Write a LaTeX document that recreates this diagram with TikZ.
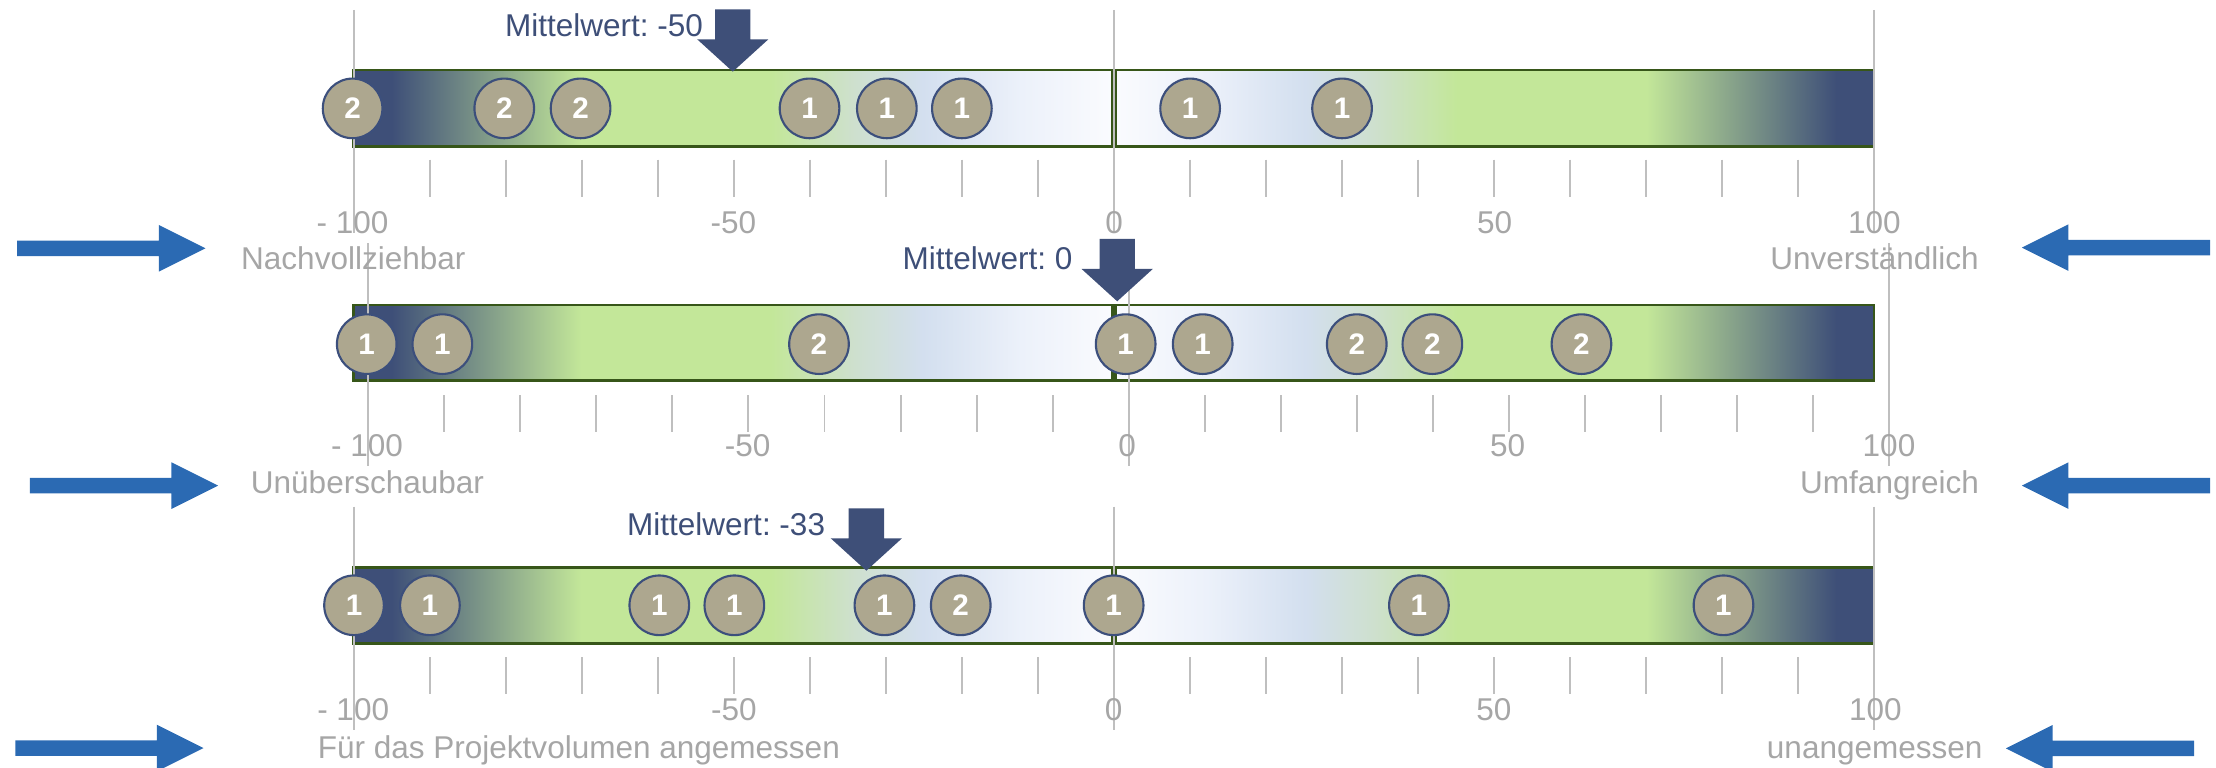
\documentclass[tikz,border=0pt]{standalone}
\usepackage{fontspec}
\setmainfont{Liberation Sans}
\usepackage{tikz}
\frenchspacing
\definecolor{teufxy}{rgb}{0.2431,0.3098,0.4706}
\definecolor{ctexzz}{rgb}{0.7647,0.9059,0.6}
\definecolor{ceeqce}{rgb}{0.8078,0.8784,0.8078}
\definecolor{dtdfef}{rgb}{0.8275,0.8745,0.9373}
\definecolor{ecfrfa}{rgb}{0.9255,0.9451,0.9804}
\definecolor{fafbfe}{rgb}{0.9804,0.9843,0.9961}
\definecolor{txvwrz}{rgb}{0.2157,0.3373,0.098}
\definecolor{adaxyf}{rgb}{0.6784,0.6549,0.5608}
\definecolor{tcufxc}{rgb}{0.2353,0.3098,0.4863}
\definecolor{sbwabt}{rgb}{0.1686,0.4157,0.702}
\definecolor{awawaw}{rgb}{0.651,0.651,0.651}
\definecolor{bfbfbf}{rgb}{0.749,0.749,0.749}
\pgfdeclarehorizontalshading{barleft}{100bp}{color(0bp)=(teufxy); color(25bp)=(teufxy); color(27.5bp)=(teufxy); color(40bp)=(ctexzz); color(52.5bp)=(ctexzz); color(58bp)=(ceeqce); color(62.5bp)=(dtdfef); color(69bp)=(ecfrfa); color(75bp)=(fafbfe); color(100bp)=(fafbfe)}
\pgfdeclarehorizontalshading{barright}{100bp}{color(0bp)=(fafbfe); color(25bp)=(fafbfe); color(31bp)=(ecfrfa); color(37.5bp)=(dtdfef); color(42bp)=(ceeqce); color(47.5bp)=(ctexzz); color(60bp)=(ctexzz); color(72.5bp)=(teufxy); color(75bp)=(teufxy); color(100bp)=(teufxy)}

\begin{document}
\begin{tikzpicture}[x=1pt,y=-1pt,line cap=butt,
vote/.style={circle,draw=tcufxc,line width=1.5pt,fill=adaxyf,minimum size=42.2pt,inner sep=0pt,text=white,font=\fontsize{21}{24}\selectfont\bfseries},
scalelabel/.style={color=awawaw,inner sep=0pt,anchor=base,font=\fontsize{22.3}{26}\selectfont},
meanlabel/.style={color=teufxy,inner sep=0pt,anchor=base east,font=\fontsize{22.3}{26}\selectfont}]
\useasboundingbox (0,0) rectangle (1568,543);
% bars
\shadedraw[shading=barleft,draw=txvwrz,line width=2pt] (250.3,49.5) rectangle (787,103.8);
\shadedraw[shading=barright,draw=txvwrz,line width=2pt] (789.5,49.5) rectangle (1326,103.8);
\shadedraw[shading=barleft,draw=txvwrz,line width=2pt] (250.3,215.8) rectangle (787,269.4);
\shadedraw[shading=barright,draw=txvwrz,line width=2pt] (789.5,215.8) rectangle (1326,269.4);
\shadedraw[shading=barleft,draw=txvwrz,line width=2pt] (250.3,401.5) rectangle (787,455.2);
\shadedraw[shading=barright,draw=txvwrz,line width=2pt] (789.5,401.5) rectangle (1326,455.2);
% scales
\foreach \x in {250.3,788.3,1326.3}
  \draw [color=bfbfbf,line width=1.4pt] (\x,7) -- (\x,165);
\foreach \x in {260.6,798.6,1336.6}
  \draw [color=bfbfbf,line width=1.4pt] (\x,172) -- (\x,330);
\foreach \x in {250.3,788.3,1326.3}
  \draw [color=bfbfbf,line width=1.4pt] (\x,358.5) -- (\x,516.6);
\foreach \v in {-90,-80,...,-10,10,20,...,90} {
  \draw [color=bfbfbf,line width=1.4pt] ({788.3+5.38*\v},113) -- ({788.3+5.38*\v},139.5);
  \draw [color=bfbfbf,line width=1.4pt] ({798.6+5.38*\v},279.5) -- ({798.6+5.38*\v},305.5);
  \draw [color=bfbfbf,line width=1.4pt] ({788.3+5.38*\v},465) -- ({788.3+5.38*\v},491);
}
% votes
\node[vote] (a1) at (249.5,76.7) {2};
\node[vote] (a2) at (356.8,76.7) {2};
\node[vote] (a3) at (410.8,76.7) {2};
\node[vote] (a4) at (572.8,76.7) {1};
\node[vote] (a5) at (627.5,76.7) {1};
\node[vote] (a6) at (680.6,76.7) {1};
\node[vote] (a7) at (842.1,76.7) {1};
\node[vote] (a8) at (949.6,76.7) {1};
\node[vote] (b1) at (259.5,243.5) {1};
\node[vote] (b2) at (313,243.5) {1};
\node[vote] (b3) at (579.5,243.5) {2};
\node[vote] (b4) at (796.5,243.5) {1};
\node[vote] (b5) at (851,243.5) {1};
\node[vote] (b6) at (960,243.5) {2};
\node[vote] (b7) at (1013.5,243.5) {2};
\node[vote] (b8) at (1119,243.5) {2};
\node[vote] (c1) at (250.5,428.3) {1};
\node[vote] (c2) at (304.2,428.3) {1};
\node[vote] (c3) at (466.5,428.3) {1};
\node[vote] (c4) at (519.6,428.3) {1};
\node[vote] (c5) at (625.8,428.3) {1};
\node[vote] (c6) at (679.8,428.3) {2};
\node[vote] (c7) at (788,428.3) {1};
\node[vote] (c8) at (1004,428.3) {1};
\node[vote] (c9) at (1219.5,428.3) {1};
% mean arrows
\fill [shift={(518.5,6.6)},color=teufxy] (-12.5,0) -- (12.5,0) -- (12.5,21.2) -- (25.2,21.2) -- (0,44.1) -- (-25.2,21.2) -- (-12.5,21.2) -- cycle;
\fill [shift={(790.5,169.1)},color=teufxy] (-12.5,0) -- (12.5,0) -- (12.5,21.2) -- (25.2,21.2) -- (0,44.1) -- (-25.2,21.2) -- (-12.5,21.2) -- cycle;
\fill [shift={(613,359.7)},color=teufxy] (-12.5,0) -- (12.5,0) -- (12.5,21.2) -- (25.2,21.2) -- (0,44.1) -- (-25.2,21.2) -- (-12.5,21.2) -- cycle;
% side arrows
\fill [shift={(12.2,175.7)},color=sbwabt] (0,-5.5) -- (100.2,-5.5) -- (100.2,-16.5) -- (133.2,0) -- (100.2,16.5) -- (100.2,5.5) -- (0,5.5) -- cycle;
\fill [shift={(21.1,343.6)},color=sbwabt] (0,-5.5) -- (100.2,-5.5) -- (100.2,-16.5) -- (133.2,0) -- (100.2,16.5) -- (100.2,5.5) -- (0,5.5) -- cycle;
\fill [shift={(10.8,529.3)},color=sbwabt] (0,-5.5) -- (100.2,-5.5) -- (100.2,-16.5) -- (133.2,0) -- (100.2,16.5) -- (100.2,5.5) -- (0,5.5) -- cycle;
\fill [shift={(1563.8,175.2)},xscale=-1,color=sbwabt] (0,-5.5) -- (100.2,-5.5) -- (100.2,-16.5) -- (133.2,0) -- (100.2,16.5) -- (100.2,5.5) -- (0,5.5) -- cycle;
\fill [shift={(1563.8,343.6)},xscale=-1,color=sbwabt] (0,-5.5) -- (100.2,-5.5) -- (100.2,-16.5) -- (133.2,0) -- (100.2,16.5) -- (100.2,5.5) -- (0,5.5) -- cycle;
\fill [shift={(1552.5,529.5)},xscale=-1,color=sbwabt] (0,-5.5) -- (100.2,-5.5) -- (100.2,-16.5) -- (133.2,0) -- (100.2,16.5) -- (100.2,5.5) -- (0,5.5) -- cycle;
% labels
\node[meanlabel] (m1) at (497.6,25.5) {Mittelwert: -50};
\node[meanlabel] (m2) at (759,191) {Mittelwert: 0};
\node[meanlabel] (m3) at (584,378.6) {Mittelwert: -33};
\node[scalelabel] (s1a) at (249.4,165.1) {- 100};
\node[scalelabel] (s1b) at (519,165.1) {-50};
\node[scalelabel] (s1c) at (788.3,165.1) {0};
\node[scalelabel] (s1d) at (1057.5,165.1) {50};
\node[scalelabel] (s1e) at (1326.3,165.1) {100};
\node[scalelabel] (s2a) at (259.7,322.7) {- 100};
\node[scalelabel] (s2b) at (529,322.7) {-50};
\node[scalelabel] (s2c) at (797.6,322.7) {0};
\node[scalelabel] (s2d) at (1066.8,322.7) {50};
\node[scalelabel] (s2e) at (1336.6,322.7) {100};
\node[scalelabel] (s3a) at (249.9,509.5) {- 100};
\node[scalelabel] (s3b) at (519.3,509.5) {-50};
\node[scalelabel] (s3c) at (787.9,509.5) {0};
\node[scalelabel] (s3d) at (1057,509.5) {50};
\node[scalelabel] (s3e) at (1327,509.5) {100};
\node[scalelabel] (w1a) at (250,191) {Nachvollziehbar};
\node[scalelabel] (w1b) at (1326.4,191) {Unverständlich};
\node[scalelabel] (w2a) at (260,349) {Unüberschaubar};
\node[scalelabel] (w2b) at (1337,349) {Umfangreich};
\node[scalelabel,anchor=base west] (w3a) at (224.7,536.5) {Für das Projektvolumen angemessen};
\node[scalelabel] (w3b) at (1326.5,536.5) {unangemessen};
\end{tikzpicture}
\end{document}
